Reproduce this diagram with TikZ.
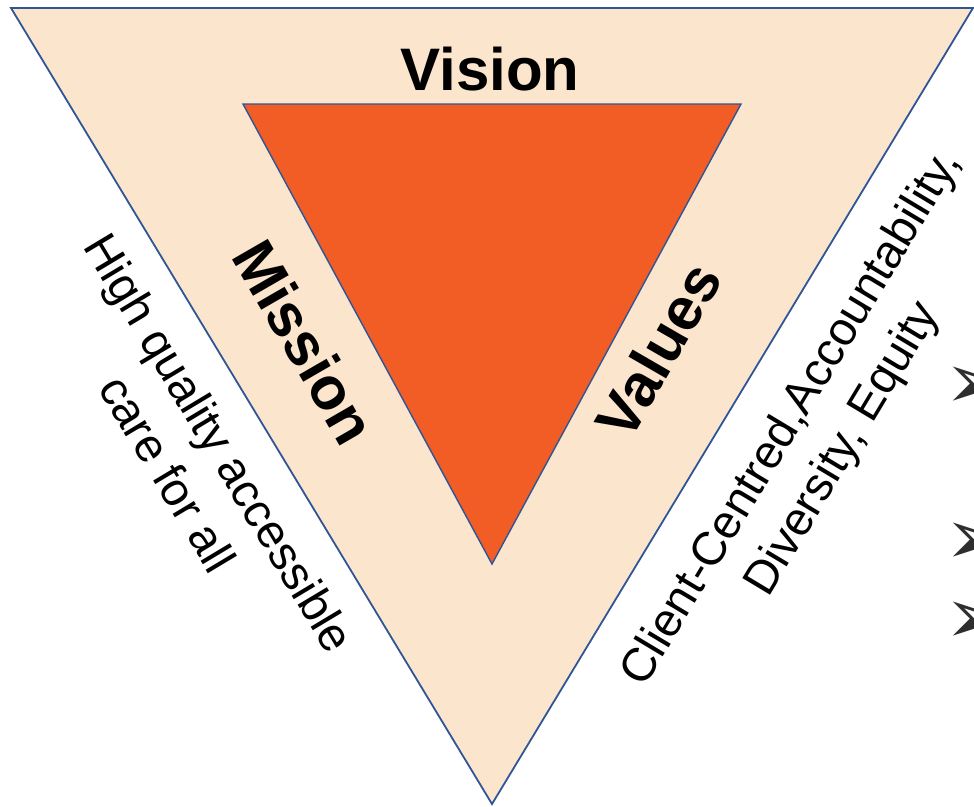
\documentclass[tikz,border=0pt]{standalone}
\usepackage{fontspec}
\setmainfont{Liberation Sans}
\newfontfamily\dejavu{DejaVu Sans}
\definecolor{peach}{HTML}{FBE5CD}
\definecolor{core}{HTML}{F15D24}
\definecolor{edge}{HTML}{2F5597}
\definecolor{bul}{HTML}{2E2E2E}
\tikzset{
  outertri/.style={fill=peach,draw=edge,line width=1.8pt,line join=miter},
  innertri/.style={fill=core,draw=edge,line width=1.4pt,line join=miter},
  bigword/.style={font=\bfseries\fontsize{60}{60}\selectfont,inner sep=0pt},
  sidetext/.style={font=\fontsize{47}{60}\selectfont,align=center,inner sep=0pt},
  bulletmark/.style={font=\dejavu\fontsize{78}{78}\selectfont,text=bul,anchor=west,inner sep=0pt}
}
\begin{document}
\begin{tikzpicture}[x=1pt,y=-1pt]
\useasboundingbox (0,0) rectangle (974,806);
\coordinate (oa) at (11,8);
\coordinate (ob) at (973,8);
\coordinate (oc) at (492,804);
\coordinate (ia) at (243,104);
\coordinate (ib) at (741,104);
\coordinate (ic) at (492,564);
\draw[outertri] (oa) -- (ob) -- (oc) -- cycle;
\draw[innertri] (ia) -- (ib) -- (ic) -- cycle;
\node[bigword] (vision) at (490,69) {Vision};
\node[bigword,rotate=-60] (mission) at (305,342) {Mission};
\node[bigword,rotate=60] (values) at (658,350) {Values};
\node[sidetext,rotate=-59] (mtext) at (194,458) {High quality accessible\\care for all};
\node[sidetext,rotate=59] (vtext) at (818,434) {Client-Centred,Accountability,\\Diversity, Equity};
\node[bulletmark] (b1) at (944,388) {➢};
\node[bulletmark] (b2) at (944,544) {➢};
\node[bulletmark] (b3) at (944,623) {➢};
\end{tikzpicture}
\end{document}
